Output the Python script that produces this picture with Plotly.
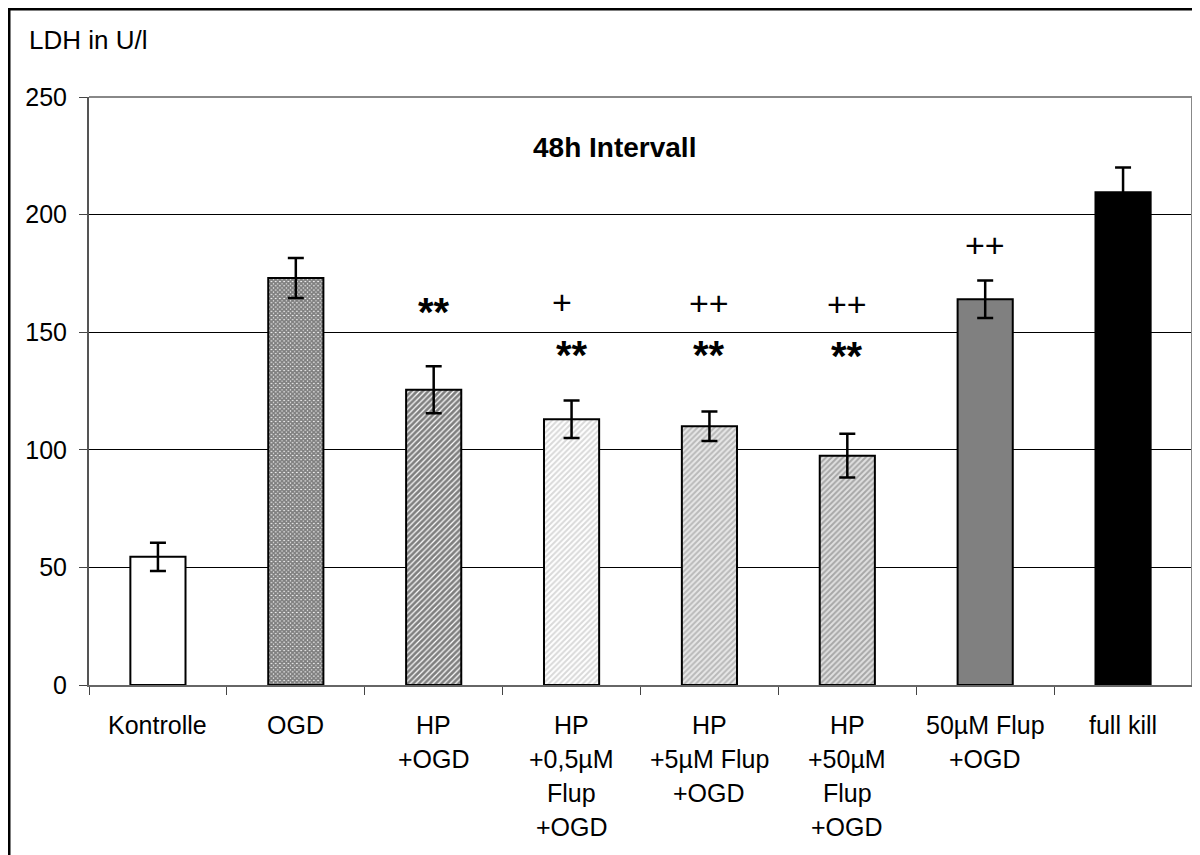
import plotly.graph_objects as go

# ---- data ----
categories = ["Kontrolle", "OGD", "HP +OGD", "HP +0,5µM Flup +OGD", "HP +5µM Flup +OGD",
              "HP +50µM Flup +OGD", "50µM Flup +OGD", "full kill"]
label_lines = [["Kontrolle"], ["OGD"], ["HP", "+OGD"], ["HP", "+0,5µM", "Flup", "+OGD"],
               ["HP", "+5µM Flup", "+OGD"], ["HP", "+50µM", "Flup", "+OGD"],
               ["50µM Flup", "+OGD"], ["full kill"]]
ldh_values = [54.5, 173.0, 125.5, 113.0, 110.0, 97.5, 164.0, 209.5]
ldh_errors = [6.0, 8.5, 10.0, 8.0, 6.3, 9.3, 8.0, 10.5]
y_ticks = [0, 50, 100, 150, 200, 250]

# significance markers: (category, text, y value)
sig_cats = ["HP +OGD", "HP +0,5µM Flup +OGD", "HP +0,5µM Flup +OGD", "HP +5µM Flup +OGD",
            "HP +5µM Flup +OGD", "HP +50µM Flup +OGD", "HP +50µM Flup +OGD", "50µM Flup +OGD"]
sig_texts = ["**", "+", "**", "++", "**", "++", "**", "++"]
sig_y = [158.5, 163.0, 140.5, 162.5, 140.3, 162.0, 139.8, 187.0]

# ---- styling ----
FONT = "Liberation Sans, Arial, sans-serif"
patterns = [
    dict(shape="", bgcolor="white"),
    dict(shape="x", fgcolor="black", bgcolor="white", size=3, solidity=0.85),
    dict(shape="/", fgcolor="black", bgcolor="white", size=4, solidity=0.7),
    dict(shape="/", fgcolor="#b4b4b4", bgcolor="white", size=4, solidity=0.5),
    dict(shape="/", fgcolor="#8a8a8a", bgcolor="#e8e8e8", size=4, solidity=0.5),
    dict(shape="/", fgcolor="#6e6e6e", bgcolor="#e0e0e0", size=4, solidity=0.5),
    dict(shape="", bgcolor="#808080"),
    dict(shape="", bgcolor="black"),
]
fill_colors = ["white", "#555555", "#555555", "#d8d8d8", "#b8b8b8", "#a8a8a8", "#808080", "black"]

fig = go.Figure()
for i, cat in enumerate(categories):
    fig.add_trace(go.Bar(
        x=[cat], y=[ldh_values[i]],
        marker=dict(color=fill_colors[i], pattern=patterns[i],
                    line=dict(color="black", width=2)),
        error_y=dict(type="data", array=[ldh_errors[i]], color="black", thickness=2.5, width=8, visible=True),
        width=0.4, showlegend=False,
    ))

# page has an 8px body margin; the figure is sized to fill the rest of the 1200x855 window
OFF = 8
W, H = 1200 - OFF, 855 - OFF
PL, PT, PR, PB = 89, 97, 1192, 685   # plot area in screen pixels
L, T = PL - OFF, PT - OFF
R, B = W + OFF - PR, H + OFF - PB
pw, ph = PR - PL, PB - PT


def px(sx):
    return (sx - PL) / pw


def py(sy):
    return (PB - sy) / ph


annotations = []
# category labels line by line
for cat, lines in zip(categories, label_lines):
    for j, line in enumerate(lines):
        annotations.append(dict(x=cat, y=0, xref="x", yref="paper", text=line, showarrow=False,
                                xanchor="center", yanchor="middle", yshift=-(40 + 34 * j),
                                font=dict(family=FONT, size=25, color="black")))
# significance marks
for cat, t, yv in zip(sig_cats, sig_texts, sig_y):
    big = t.startswith("*")
    annotations.append(dict(x=cat, y=yv, xref="x", yref="y",
                            text=("<b>%s</b>" % t) if big else t, showarrow=False,
                            xanchor="center", yanchor="middle",
                            xshift=(-10 if t == "+" else 0),
                            font=dict(family=FONT, size=40 if big else 34, color="black")))
# title and axis label
annotations.append(dict(x=px(614.5), y=py(147), xref="paper", yref="paper",
                        text="<b>48h Intervall</b>", showarrow=False, xanchor="center", yanchor="middle",
                        font=dict(family=FONT, size=28, color="black")))
annotations.append(dict(x=px(27), y=py(40), xref="paper", yref="paper",
                        text="LDH in U/l", showarrow=False, xanchor="left", yanchor="middle",
                        font=dict(family=FONT, size=26, color="black")))

shapes = [
    # plot area border top/right (gray)
    dict(type="line", xref="paper", yref="paper", x0=0, x1=1, y0=1, y1=1,
         line=dict(color="#888888", width=2)),
    dict(type="line", xref="paper", yref="paper", x0=1, x1=1, y0=0, y1=1,
         line=dict(color="#888888", width=2)),
    # outer frame (black) top and left
    dict(type="line", xref="paper", yref="paper", x0=px(7), x1=px(1210),
         y0=py(9), y1=py(9), line=dict(color="black", width=3)),
    dict(type="line", xref="paper", yref="paper", x0=px(9), x1=px(9),
         y0=py(7.5), y1=py(870), line=dict(color="black", width=3)),
]

fig.update_layout(
    width=W, height=H,
    margin=dict(l=L, r=R, t=T, b=B),
    paper_bgcolor="white", plot_bgcolor="white",
    font=dict(family=FONT, size=25, color="black"),
    annotations=annotations, shapes=shapes,
    xaxis=dict(type="category", categoryorder="array", categoryarray=categories,
               showticklabels=False, ticks="outside", tickson="boundaries", ticklen=8,
               tickcolor="#444444", tickwidth=1, showline=True, linecolor="#666666",
               linewidth=2, showgrid=False, zeroline=False),
    yaxis=dict(range=[0, 250], tickvals=y_ticks, ticktext=[str(v) for v in y_ticks],
               ticks="outside", ticklen=8, tickcolor="#444444", tickwidth=1,
               showline=True, linecolor="#555555", linewidth=2,
               showgrid=True, gridcolor="black", gridwidth=1, zeroline=False,
               tickfont=dict(family=FONT, size=25, color="black"), ticklabelstandoff=7),
)

fig.write_html("out.html")
